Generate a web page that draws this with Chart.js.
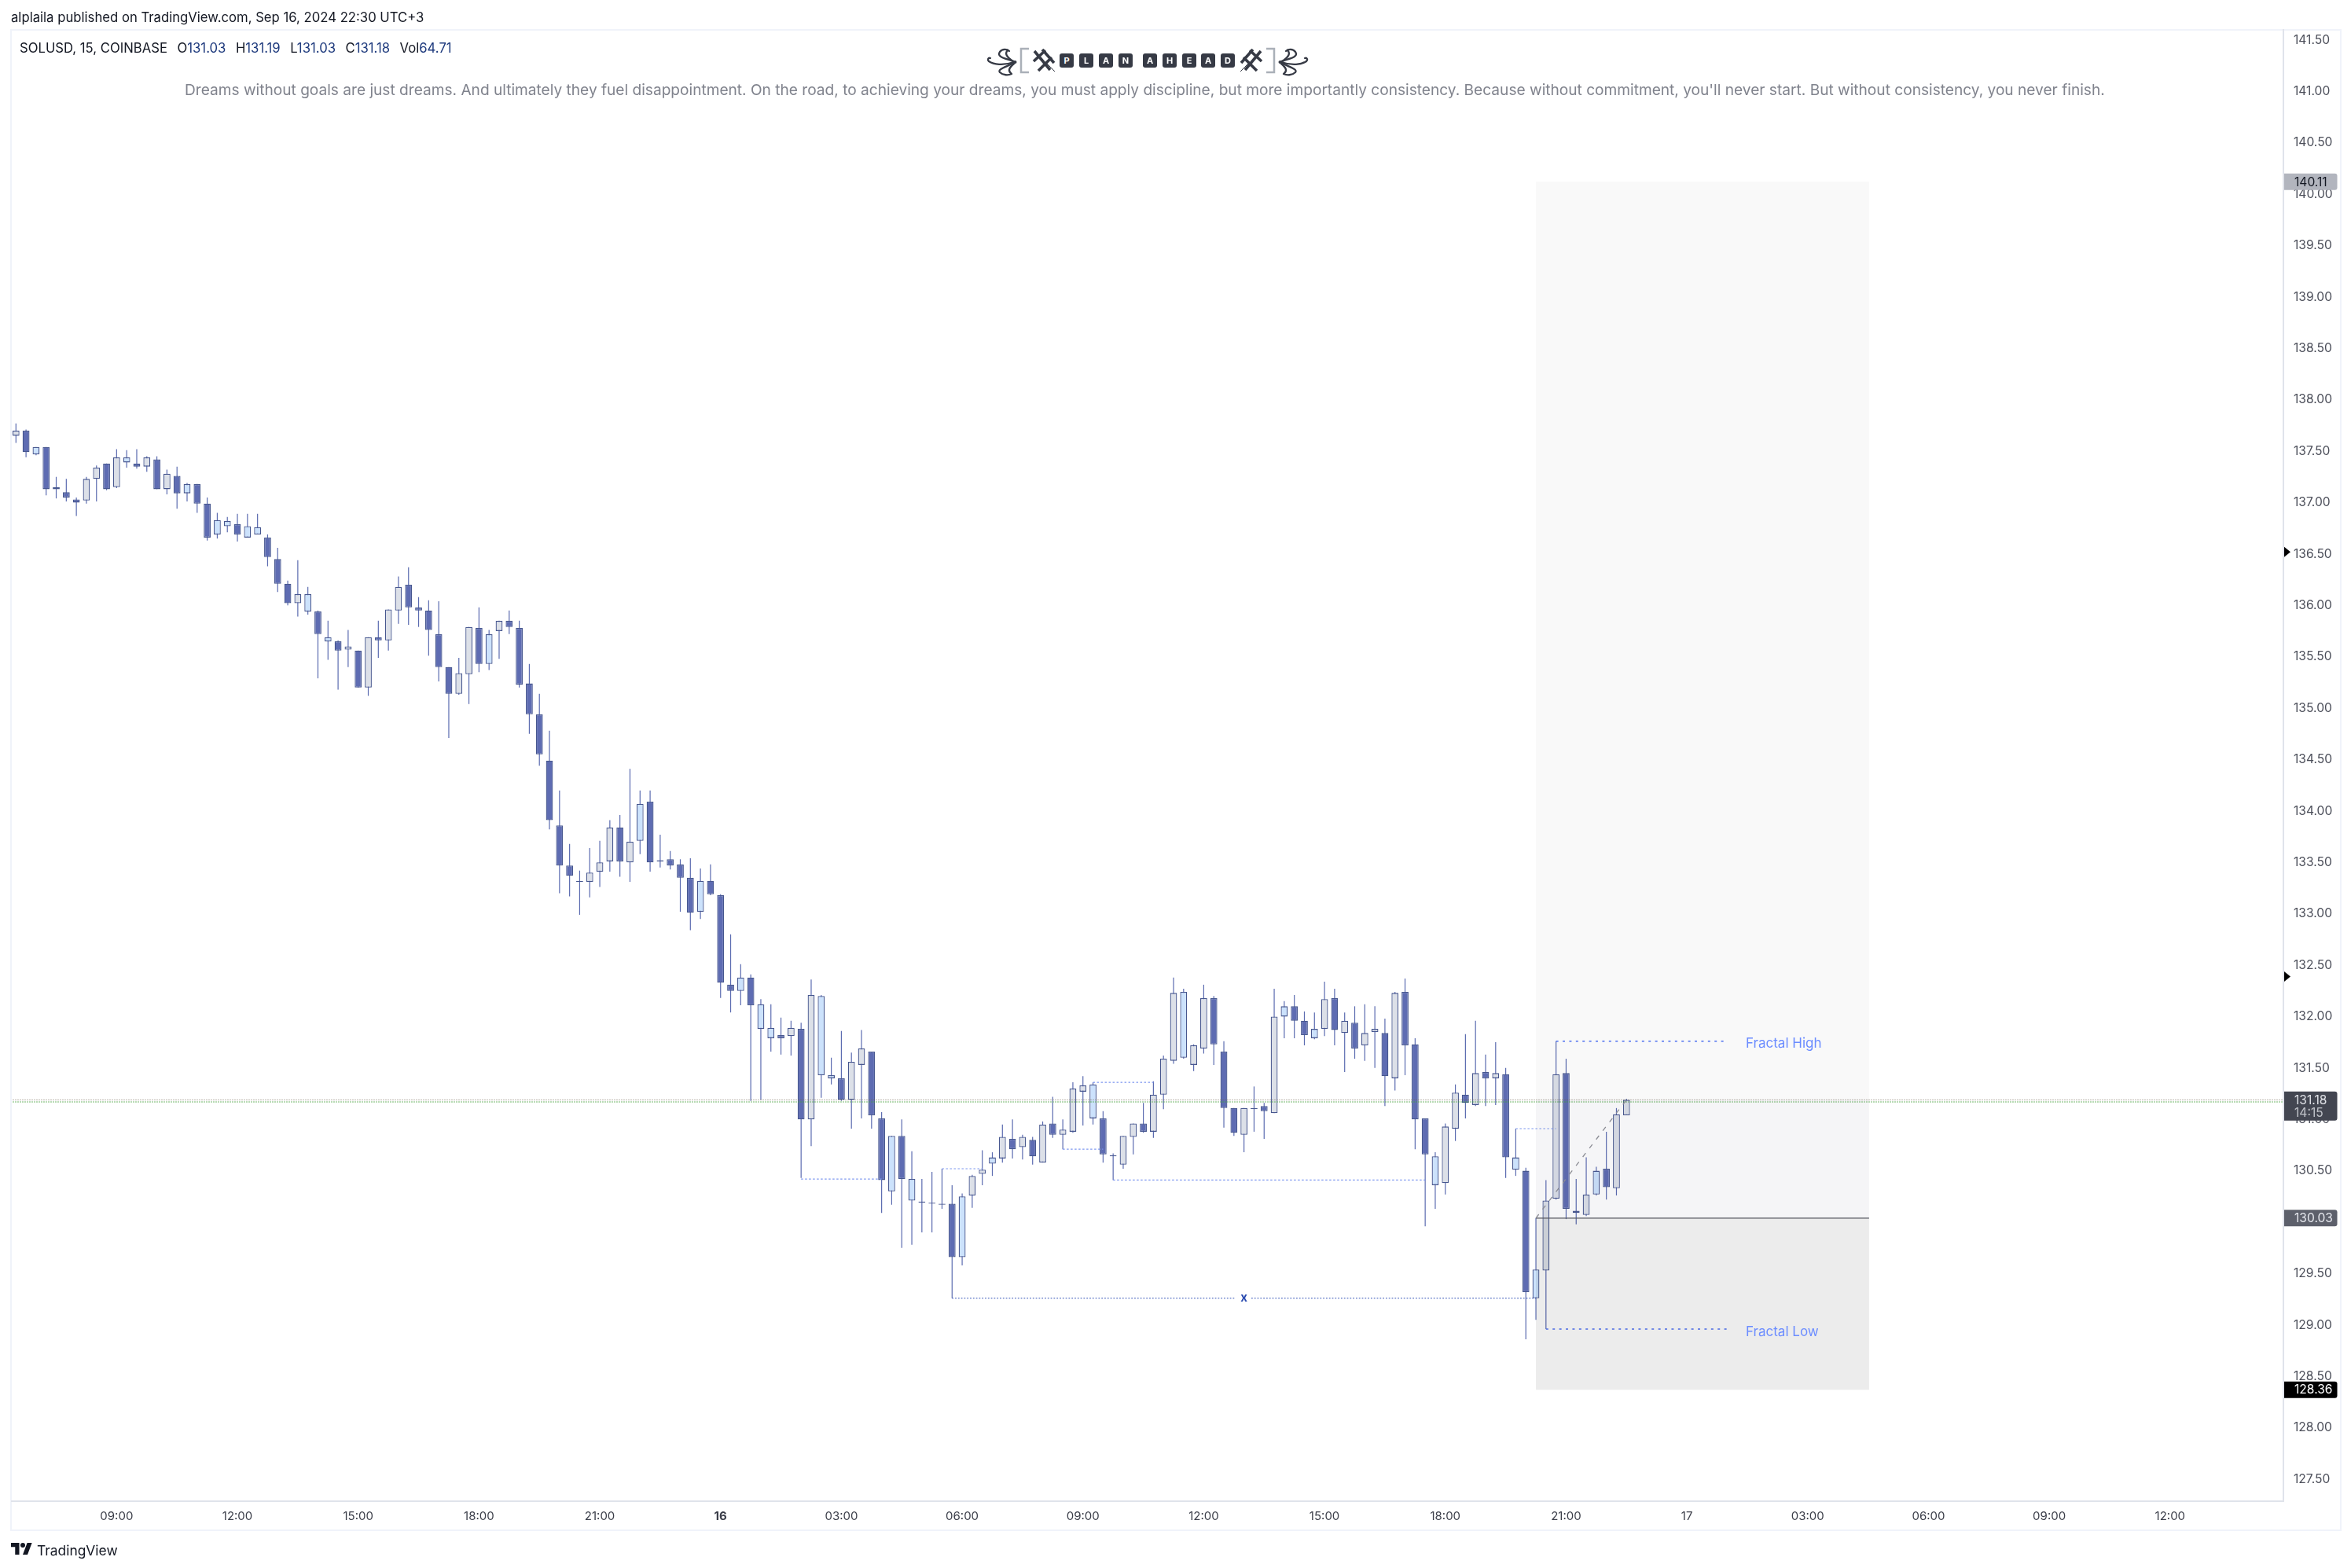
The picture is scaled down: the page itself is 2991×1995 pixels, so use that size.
<!DOCTYPE html>
<html><head><meta charset="utf-8">
<script src="https://cdn.jsdelivr.net/npm/chart.js"></script>
<style>
html,body{margin:0;padding:0;background:#fff;width:2991px;height:1995px;overflow:hidden;font-family:Inter,sans-serif}
canvas{position:absolute;left:0;top:0}
.t{position:absolute;white-space:nowrap;line-height:1}
#frame{position:absolute;left:13px;top:36.5px;width:2962px;height:1907px;border:2px solid #f0f3fa}
.bd{position:absolute;top:68px;width:18px;height:18px;border-radius:3px;background:#363a45;color:#fff;font-weight:700;font-size:11px;line-height:18px;text-align:center}
</style></head><body>
<div id="frame"></div>
<canvas id="c" width="2991" height="1995"></canvas>
<div class="t" style="left:14px;top:14px;font-size:16.7px;color:#131722">alplaila published on TradingView.com, Sep 16, 2024 22:30 UTC+3</div>
<div class="t" style="left:25px;top:52.5px;font-size:16.7px;color:#131722" id="lg"></div>
<div class="t" style="left:235px;top:104.5px;font-size:19.13px;color:#80838d">Dreams without goals are just dreams. And ultimately they fuel disappointment. On the road, to achieving your dreams, you must apply discipline, but more importantly consistency. Because without commitment, you'll never start. But without consistency, you never finish.</div>
<svg style="position:absolute;left:0;top:0" width="2991" height="120" fill="none">
<defs><g id="orn">
<g stroke="#363a45" stroke-width="2.3" stroke-linecap="round">
<path d="M1290 78C1276 74 1268 72 1272 66C1275 62 1281 62 1284 65"/>
<path d="M1290 79C1280 72 1278 68 1282 64"/>
<path d="M1290 79C1276 84 1264 82 1258 78C1256 76 1257 73 1260 74"/>
<path d="M1290 80C1278 86 1269 88 1272 92C1276 96 1283 96 1287 94"/>
<path d="M1290 81C1284 86 1282 90 1286 93"/>
</g><circle cx="1291.5" cy="79" r="2" fill="#363a45"/>
<path d="M1309 62H1299V92H1309" stroke="#aab0b8" stroke-width="2.5"/>
<g stroke="#363a45" stroke-width="3.6"><path d="M1315 78L1330 64M1321 90L1338 73M1316 65L1336 89M1326 63L1341 80"/></g>
<path d="M1331 80L1342 91" stroke="#363a45" stroke-width="1"/>
</g></defs>
<use href="#orn"/><use href="#orn" transform="translate(2920,0) scale(-1,1)"/>
</svg>
<div id="badges"></div>
<svg style="position:absolute;left:14px;top:1963px" width="27" height="15" viewBox="0 0 36 20"><path fill="#131722" d="M14 20H7V7H0V0h14v20zM28 20h-8L27.5 0h8L28 20z"/><circle cx="20" cy="4" r="4" fill="#131722"/></svg>
<div class="t" style="left:47px;top:1964px;font-size:17.4px;color:#131722">TradingView</div>
<script>
const opens=[137.64,137.69,137.46,137.53,137.14,137.09,137.02,137.01,137.22,137.37,
137.14,137.38,137.37,137.34,137.41,137.12,137.25,137.08,137.17,136.98,
136.68,136.76,136.78,136.65,136.68,136.65,136.44,136.20,136.01,135.93,
135.93,135.64,135.64,135.56,135.55,135.19,135.68,135.65,135.94,136.19,
135.97,135.94,135.71,135.39,135.13,135.32,135.77,135.42,135.74,135.84,
135.77,135.23,134.93,134.48,133.85,133.46,133.31,133.30,133.40,133.50,
133.83,133.49,133.70,134.08,133.51,133.52,133.47,133.34,133.01,133.31,
133.17,132.30,132.24,132.37,131.87,131.78,131.81,131.80,131.87,130.99,
131.42,131.39,131.39,131.18,131.52,131.65,131.00,130.29,130.83,130.20,
130.19,130.18,130.17,130.17,129.65,130.25,130.46,130.56,130.61,130.80,
130.72,130.79,130.57,130.95,130.84,130.87,131.26,131.00,131.00,130.64,
130.55,130.82,130.95,130.87,131.23,131.56,131.59,131.52,131.68,132.17,
131.65,131.10,130.84,131.10,131.12,131.05,131.99,132.09,131.95,131.78,
131.87,132.17,131.83,131.93,131.71,131.84,131.83,131.39,132.23,131.72,
131.00,130.35,130.37,130.90,131.23,131.13,131.45,131.39,131.43,130.50,
130.49,129.25,129.52,130.22,131.44,130.10,130.06,130.26,130.51,130.32,131.03];
const closes=[137.69,137.48,137.53,137.12,137.12,137.04,136.99,137.22,137.33,137.12,
137.43,137.43,137.34,137.43,137.12,137.27,137.08,137.17,136.98,136.65,
136.82,136.81,136.68,136.76,136.75,136.46,136.20,136.01,136.10,136.10,
135.71,135.68,135.55,135.59,135.19,135.68,135.65,135.95,136.17,135.97,
135.94,135.75,135.39,135.13,135.33,135.78,135.42,135.71,135.84,135.78,
135.22,134.93,134.54,133.90,133.46,133.36,133.30,133.39,133.49,133.83,
133.50,133.69,134.06,133.49,133.50,133.46,133.34,133.00,133.31,133.18,
132.32,132.24,132.37,132.10,132.11,131.88,131.78,131.88,130.99,132.20,
132.19,131.42,131.18,131.55,131.68,131.03,130.40,130.83,130.41,130.41,
130.18,130.17,130.16,129.65,130.24,130.44,130.50,130.62,130.82,130.70,
130.82,130.63,130.94,130.84,130.89,131.29,131.32,131.33,130.65,130.63,
130.83,130.95,130.87,131.23,131.58,132.22,132.23,131.71,132.17,131.72,
131.10,130.86,131.10,131.09,131.07,131.99,132.09,131.95,131.81,131.87,
132.16,131.86,131.95,131.68,131.83,131.87,131.41,132.22,131.71,130.99,
130.65,130.63,130.92,131.25,131.15,131.44,131.39,131.44,130.62,130.62,
129.31,129.53,130.20,131.43,130.12,130.08,130.26,130.49,130.33,131.04,131.18];
const highs=[137.76,137.70,137.53,137.53,137.24,137.22,137.04,137.24,137.35,137.37,
137.51,137.50,137.51,137.44,137.44,137.31,137.34,137.18,137.17,137.04,
136.89,136.85,136.88,136.88,136.88,136.68,136.55,136.23,136.43,136.17,
135.94,135.84,135.65,135.75,135.55,135.68,135.84,135.95,136.27,136.36,
136.07,136.04,136.03,135.39,135.48,135.78,135.97,135.75,135.84,135.94,
135.84,135.42,135.13,134.77,134.19,133.67,133.41,133.63,133.70,133.90,
133.95,134.40,134.19,134.19,133.76,133.60,133.52,133.53,133.43,133.47,
133.18,132.79,132.50,132.40,132.16,132.11,131.98,131.95,131.93,132.35,
132.20,131.59,131.85,131.64,131.86,131.65,131.06,130.83,130.99,130.68,
130.41,130.48,130.51,130.35,130.27,130.45,130.69,130.67,130.94,130.99,
130.84,130.82,130.97,131.21,130.99,131.35,131.41,131.35,131.07,130.66,
130.83,130.95,131.15,131.36,131.61,132.37,132.26,131.72,132.30,132.19,
131.75,131.10,131.10,131.31,131.15,132.26,132.14,132.20,132.04,132.03,
132.33,132.26,132.03,132.09,132.11,132.09,131.97,132.23,132.36,131.78,
131.00,130.67,130.95,131.33,131.82,131.95,131.62,131.74,131.49,130.90,
130.52,130.03,130.40,131.75,131.58,130.41,130.62,130.53,130.87,131.10,131.19];
const lows=[137.57,137.43,137.45,137.06,137.03,137.00,136.86,136.98,137.00,137.11,
137.13,137.33,137.32,137.29,137.12,137.07,136.93,137.00,136.89,136.62,
136.64,136.70,136.61,136.65,136.68,136.37,136.12,135.99,135.88,135.90,
135.28,135.46,135.17,135.39,135.19,135.11,135.48,135.55,135.81,135.80,
135.78,135.50,135.25,134.70,135.12,135.03,135.34,135.36,135.47,135.71,
135.19,134.74,134.43,133.81,133.19,133.16,132.98,133.15,133.25,133.40,
133.35,133.30,133.57,133.40,133.44,133.42,133.01,132.83,132.94,133.17,
132.17,132.03,132.10,131.17,131.18,131.65,131.62,131.61,130.42,130.73,
131.20,131.33,131.17,130.90,131.00,130.90,130.08,130.16,129.74,129.77,
129.89,129.89,130.12,129.25,129.57,130.13,130.35,130.44,130.57,130.61,
130.60,130.55,130.57,130.81,130.70,130.86,130.93,130.94,130.57,130.40,
130.51,130.65,130.86,130.81,131.09,131.53,131.58,131.46,131.63,131.52,
130.91,130.83,130.67,130.87,130.80,131.05,131.78,131.78,131.71,131.77,
131.80,131.71,131.45,131.58,131.56,131.49,131.12,131.27,131.42,130.70,
129.95,130.12,130.26,130.78,131.00,131.12,131.12,131.13,130.42,130.44,
128.85,129.04,128.95,130.21,130.02,129.97,130.05,130.25,130.21,130.25,131.03];
const shades=("gdbddddggd"+"gbdgdgdbdd"+"bbdbbdddgb"+"dbdgdgdggd"+"ddddggdbgd"+"dddddddggg"+"dgbdddddbd"+"ddbdbbdgdg"+"bbdggddbdb"+"ddddbggbgd"+"gdgdgggbdd"+"ggdgggbggd"+"ddgddgbddb"+"gdgdggdgdd"+"dbggdgdgdb"+"dbggddgbdgg").split("");

const priceTicks=[127.5,128,128.5,129,129.5,130,130.5,131,131.5,132,132.5,133,133.5,134,134.5,135,135.5,136,136.5,137,137.5,138,138.5,139,139.5,140,140.5,141,141.5];
const timeTickBars=[10,22,34,46,58,70,82,94,106,118,130,142,154,166,178,190,202,214];
const timeTickLabels=["09:00","12:00","15:00","18:00","21:00","16","03:00","06:00","09:00","12:00","15:00","18:00","21:00","17","03:00","06:00","09:00","12:00"];
const boldTickLabels=["16"];
const legendTitle="SOLUSD, 15, COINBASE";
const legendValues=[["O","131.03"],["H","131.19"],["L","131.03"],["C","131.18"],["Vol","64.71"]];
const planWord=[["P",1357],["L",1382],["A",1407],["N",1432],["A",1463],["H",1488],["E",1513],["A",1537],["D",1562]];

// annotations: [barFrom, priceFrom, barTo, priceTo]
const structureLines=[[78,130.41,86,130.41],[92,130.51,96,130.51],[104,130.70,108,130.70],[107,131.35,113,131.35],[109,130.40,140,130.40],[149,130.90,153,130.90]];
const breakLines=[[93,129.25,121.17,129.25],[122.73,129.25,151,129.25]];
const fractalLines=[[153,131.75,169.66,131.75],[152,128.95,169.95,128.95]];
const diagonal=[151,130.03,160,131.18];
const zoneBars=[151,184.1];
const zonePrices=[140.11,131.18,130.03,128.36];
const lastPrice=131.18, lastPriceAlt=131.16;
const textMarks=[["Fractal High",171.85,131.73,"#6b8cff",17],["Fractal Low",171.85,128.92,"#6b8cff",17],["x",122,129.25,"#2a4bb0",15]];
const priceTags=[[140.11,"140.11",null,"#b2b5be","#131722"],[131.18,"131.18","14:15","#434651","#dfe1e6"],[130.03,"130.03",null,"#5d606b","#e6e8ee"],[128.36,"128.36",null,"#000000","#ffffff"]];
const arrowPrices=[136.51,132.38];

const fills={d:"#5e6cb2",g:"#dce0e8",b:"#cce2fc"};
const bars=opens.map((_,i)=>i);
document.getElementById('lg').innerHTML=legendTitle+legendValues.map(([k,v])=>'<span style="margin-left:12.5px">'+k+'<span style="color:#1e3a7d">'+v+'</span></span>').join('');
document.getElementById('badges').innerHTML=planWord.map(([c,x])=>'<div class="bd" style="left:'+(x-9)+'px">'+c+'</div>').join('');

const seg=(s,color,width,dash,order,extra)=>Object.assign({type:'line',data:[{x:s[0],y:s[1]},{x:s[2],y:s[3]}],borderColor:color,borderWidth:width,borderDash:dash,pointRadius:0,tension:0,fill:false,order:order},extra||{});
const zone=(top,bottom,color)=>({type:'line',data:zoneBars.map(x=>({x:x,y:top})),fill:{value:bottom},backgroundColor:color,borderWidth:0,borderColor:'transparent',pointRadius:0,order:5});

const datasets=[
 {type:'bar',grouped:false,data:bars.map(i=>({x:i,y:[lows[i],highs[i]]})),backgroundColor:'#5b6bb0',borderWidth:0,barThickness:1.2,inflateAmount:0,order:30},
 {type:'bar',grouped:false,data:bars.map(i=>({x:i,y:[opens[i],closes[i]]})),backgroundColor:shades.map(s=>fills[s]),borderColor:'#47578f',borderWidth:1.3,borderSkipped:false,barThickness:8.8,inflateAmount:0,order:20},
 zone(zonePrices[0],zonePrices[1],'rgba(0,0,0,0.025)'),
 zone(zonePrices[1],zonePrices[2],'rgba(50,50,90,0.05)'),
 zone(zonePrices[2],zonePrices[3],'rgba(0,0,0,0.075)'),
 seg([zoneBars[0],zonePrices[2],zoneBars[1],zonePrices[2]],'#55565f',1.3,[],4),
 seg(diagonal,'#8b8c94',1.3,[6,8],3),
 seg([-1,lastPrice,230,lastPrice],'#6e5f50',1,[1,2],8),
 seg([-1,lastPriceAlt,230,lastPriceAlt],'#45a03c',1.3,[1,2],9),
 ...structureLines.map(s=>seg(s,'#7d97f0',1.1,[2.5,2.5],10)),
 ...breakLines.map(s=>seg(s,'#2f4fb5',1.1,[1.8,2],10)),
 ...fractalLines.map(s=>seg(s,'#4f72f5',1.6,[3,5.4],10)),
];

const overlay={id:'overlay',
 afterDatasetsDraw(c){const x=c.scales.x,y=c.scales.y,g=c.ctx;g.save();g.textBaseline='middle';
  textMarks.forEach(([t,b,p,col,fs])=>{g.font=(t=="x"?"700 ":"400 ")+fs+'px Inter';g.fillStyle=col;g.textAlign=t=="x"?'center':'left';g.fillText(t,x.getPixelForValue(b),y.getPixelForValue(p));});
  g.restore();},
 afterDraw(c){const y=c.scales.y,g=c.ctx,r=c.chartArea.right;g.save();g.textBaseline='middle';g.textAlign='left';
  priceTags.forEach(([p,t,t2,bg,fg])=>{const py=y.getPixelForValue(p);const top=py-10.5,h=t2?37:21;
   g.fillStyle=bg;g.beginPath();g.roundRect(r+1,top,67.5,h,[0,3,3,0]);g.fill();
   g.fillStyle=fg;g.font='15.6px Inter';g.fillText(t,r+14,py+.5);
   if(t2){g.globalAlpha=.8;g.fillText(t2,r+14,py+16.5);g.globalAlpha=1;}
  });
  g.fillStyle='#000';arrowPrices.forEach(p=>{const py=y.getPixelForValue(p);g.beginPath();g.moveTo(r+1,py-6.5);g.lineTo(r+9,py);g.lineTo(r+1,py+6.5);g.closePath();g.fill();});
  g.restore();}
};

new Chart(document.getElementById('c'),{type:'bar',data:{datasets},plugins:[overlay],
 options:{responsive:false,animation:false,devicePixelRatio:1,
  layout:{padding:{left:15,top:38,right:14,bottom:50}},
  plugins:{legend:{display:false},tooltip:{enabled:false}},
  scales:{
   x:{type:'linear',offset:false,min:-0.414,max:225.26,grid:{display:false},border:{display:true,color:'#e0e3eb',width:2},
    afterFit(s){s.height=35},afterBuildTicks(s){s.ticks=timeTickBars.map(v=>({value:v}))},
    ticks:{autoSkip:false,maxRotation:0,padding:2,color:'#3b3e49',callback:(v)=>timeTickLabels[timeTickBars.indexOf(v)],
     font:(ctx)=>({family:'Inter',size:15,weight:boldTickLabels.includes(timeTickLabels[timeTickBars.indexOf(ctx.tick&&ctx.tick.value)])?'700':'400'}),major:{enabled:false}}},
   y:{type:'linear',position:'right',min:127.276,max:141.588,grid:{display:false},border:{display:true,color:'#e0e3eb',width:2},
    afterFit(s){s.width=72},afterBuildTicks(s){s.ticks=priceTicks.map(v=>({value:v}))},
    ticks:{autoSkip:false,padding:5,labelOffset:1.5,color:'#4c4f5a',font:{family:'Inter',size:15.6},callback:(v)=>Number(v).toFixed(2)}}
  }}});
</script>
</body></html>
